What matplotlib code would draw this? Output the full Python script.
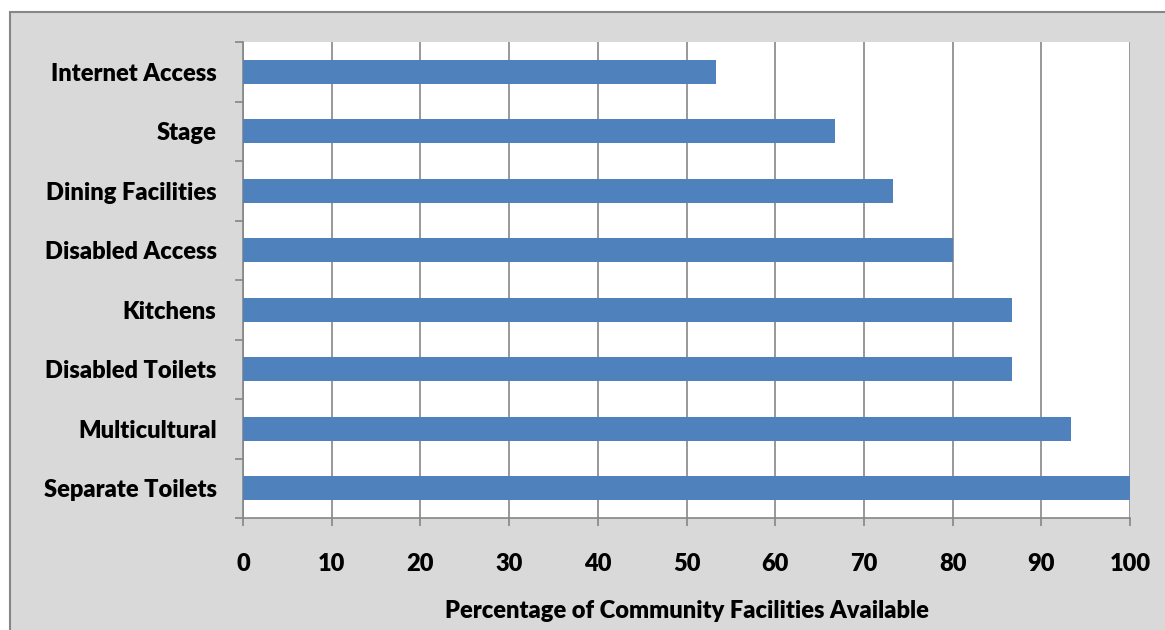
import matplotlib
matplotlib.use("Agg")
import matplotlib.pyplot as plt
from matplotlib.patches import Rectangle

categories = ["Separate Toilets", "Multicultural", "Disabled Toilets", "Kitchens",
              "Disabled Access", "Dining Facilities", "Stage", "Internet Access"]
values = [100, 93.3, 86.7, 86.7, 80, 73.3, 66.7, 53.3]
x_ticks = [0, 10, 20, 30, 40, 50, 60, 70, 80, 90, 100]
x_label = "Percentage of Community Facilities Available"

plt.rcParams['font.family'] = ['Lato', 'DejaVu Sans']
plt.rcParams['font.weight'] = 'heavy'

fig = plt.figure(figsize=(11.65, 6.3), dpi=100)
fig.patch.set_facecolor("white")
# grey chart frame
fig.patches.append(Rectangle((10 / 1165, -0.1), 1.2, (630 - 12) / 630 + 0.1,
                             transform=fig.transFigure, facecolor="#d9d9d9",
                             edgecolor="#868686", linewidth=1.5, zorder=-5))

ax = fig.add_axes([243 / 1165, (630 - 518) / 630, (1130 - 243) / 1165, (518 - 42) / 630])
ax.set_facecolor("white")

pos = list(range(len(categories)))
ax.barh(pos, values, height=0.4, color="#4f81bd", zorder=3)
ax.set_ylim(-0.5, len(categories) - 0.5)
ax.set_xlim(0, 100)
ax.set_xticks(x_ticks)
ax.set_yticks(pos)
ax.set_yticklabels(categories, fontsize=17, fontweight="heavy")
ax.set_xticklabels([str(t) for t in x_ticks], fontsize=17, fontweight="heavy")
ax.set_xlabel(x_label, fontsize=17, fontweight="heavy", labelpad=18)

ax.grid(axis="x", color="#868686", linewidth=1.2, zorder=1)
ax.set_axisbelow(True)
for s in ["top", "right"]:
    ax.spines[s].set_visible(False)
for s in ["left", "bottom"]:
    ax.spines[s].set_color("#868686")
    ax.spines[s].set_linewidth(1.2)

# category boundary ticks on y axis
ax.set_yticks([p - 0.5 for p in pos] + [len(categories) - 0.5], minor=True)
ax.tick_params(axis="y", which="major", length=0, pad=19)
ax.tick_params(axis="y", which="minor", length=6, color="#868686", width=1.2)
ax.tick_params(axis="x", which="major", length=6, color="#868686", width=1.2, pad=19)

fig.savefig("out.png", dpi=100)
